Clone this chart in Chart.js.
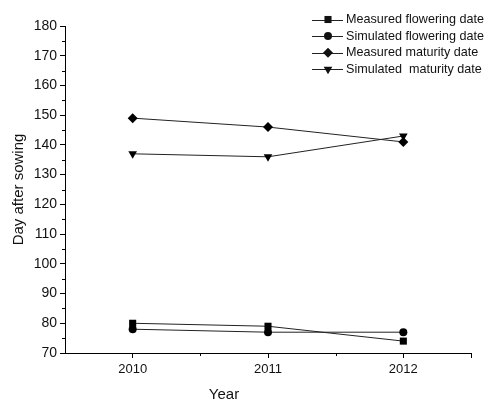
<!DOCTYPE html>
<html>
<head>
<meta charset="utf-8">
<script src="https://cdn.jsdelivr.net/npm/chart.js@4"></script>
<style>
  html, body { margin: 0; padding: 0; background: #fff; }
  #wrap { width: 490px; height: 403px; }
</style>
</head>
<body>
<div id="wrap"><canvas id="grafico"></canvas></div>
<script>
// datos
const years = [2010, 2011, 2012];
const measuredFlowering = [80, 79, 74];
const simulatedFlowering = [78, 77, 77];
const measuredMaturity = [149, 146, 141];
const simulatedMaturity = [137, 136, 143];
const seriesNames = ['Measured flowering date', 'Simulated flowering date', 'Measured maturity date', 'Simulated  maturity date'];
const yTicks = [70, 80, 90, 100, 110, 120, 130, 140, 150, 160, 170, 180];

const fontName = '"Liberation Sans", Arial, sans-serif';
const ink = '#111';

function puntos(vals) {
    return years.map((y, i) => ({ x: y, y: vals[i] }));
}

// estilos de marcador
const estilos = [
    { pointStyle: 'rect', radius: 5, rotation: 0 },
    { pointStyle: 'circle', radius: 4, rotation: 0 },
    { pointStyle: 'rectRot', radius: 5, rotation: 0 },
    { pointStyle: 'triangle', radius: 5, rotation: 180 }
];
const valores = [measuredFlowering, simulatedFlowering, measuredMaturity, simulatedMaturity];

const datasets = valores.map((v, i) => ({
    label: seriesNames[i],
    data: puntos(v),
    borderColor: '#222',
    backgroundColor: '#000',
    borderWidth: 1,
    pointStyle: estilos[i].pointStyle,
    pointRadius: estilos[i].radius,
    pointRotation: estilos[i].rotation,
    pointBorderWidth: 0,
    pointBackgroundColor: '#000',
    tension: 0
}));

// marcas menores, leyenda y titulo del eje x
const extras = {
    id: 'extras',
    afterDraw(chart) {
        const ctx = chart.ctx;
        const xs = chart.scales.x;
        const ys = chart.scales.y;
        const area = chart.chartArea;
        ctx.save();
        ctx.strokeStyle = '#000';
        ctx.lineWidth = 1;
        // menores eje y
        for (let v = 75; v < 180; v += 10) {
            const py = Math.round(ys.getPixelForValue(v)) + 0.5;
            ctx.beginPath();
            ctx.moveTo(area.left, py);
            ctx.lineTo(area.left - 3, py);
            ctx.stroke();
        }
        // menores eje x
        [2010.5, 2011.5, 2012.5].forEach(v => {
            const px = Math.round(xs.getPixelForValue(v)) + 0.5;
            ctx.beginPath();
            ctx.moveTo(px, area.bottom);
            ctx.lineTo(px, area.bottom + (v === 2012.5 ? 5 : 3));
            ctx.stroke();
        });

        // titulo eje x
        ctx.fillStyle = ink;
        ctx.font = '15px ' + fontName;
        ctx.textAlign = 'center';
        ctx.textBaseline = 'middle';
        ctx.fillText('Year', 224, 395);

        // leyenda
        ctx.font = '12.6px ' + fontName;
        ctx.textAlign = 'left';
        chart.data.datasets.forEach((ds, i) => {
            const cy = 19.5 + i * 16.6;
            ctx.strokeStyle = '#222';
            ctx.beginPath();
            ctx.moveTo(312, Math.round(cy) + 0.5);
            ctx.lineTo(343, Math.round(cy) + 0.5);
            ctx.stroke();
            Chart.helpers.drawPoint(ctx, {
                pointStyle: ds.pointStyle,
                radius: ds.pointRadius,
                rotation: ds.pointRotation,
                borderWidth: 0
            }, 328, cy);
            ctx.fillStyle = ink;
            ctx.fillText(ds.label, 346, cy);
        });
        ctx.restore();
    }
};

const ctx = document.getElementById('grafico').getContext('2d');
const myChart = new Chart(ctx, {
    type: 'line',
    data: { datasets: datasets },
    plugins: [extras],
    options: {
        responsive: true,
        maintainAspectRatio: false,
        animation: false,
        layout: { padding: { top: 26, right: 19, left: 0, bottom: 0 } },
        plugins: {
            legend: { display: false },
            tooltip: { enabled: false }
        },
        scales: {
            x: {
                type: 'linear',
                min: 2009.5,
                max: 2012.5,
                afterBuildTicks: s => { s.ticks = years.map(v => ({ value: v })); },
                afterFit: s => { s.height = 50; },
                ticks: {
                    color: ink,
                    font: { family: fontName, size: 13 },
                    padding: 4,
                    maxRotation: 0,
                    callback: v => String(v)
                },
                grid: { drawOnChartArea: false, drawTicks: true, tickLength: 5, tickColor: '#000' },
                border: { display: true, color: '#000', width: 1 }
            },
            y: {
                min: 70,
                max: 180,
                afterBuildTicks: s => { s.ticks = yTicks.map(v => ({ value: v })); },
                afterFit: s => { s.width = 65; },
                ticks: {
                    color: ink,
                    font: { family: fontName, size: 14 },
                    padding: 3
                },
                title: {
                    display: true,
                    text: 'Day after sowing',
                    color: ink,
                    font: { family: fontName, size: 15 },
                    padding: { top: 10, bottom: 0 }
                },
                grid: { drawOnChartArea: false, drawTicks: true, tickLength: 5, tickColor: '#000' },
                border: { display: true, color: '#000', width: 1 }
            }
        }
    }
});
</script>
</body>
</html>
